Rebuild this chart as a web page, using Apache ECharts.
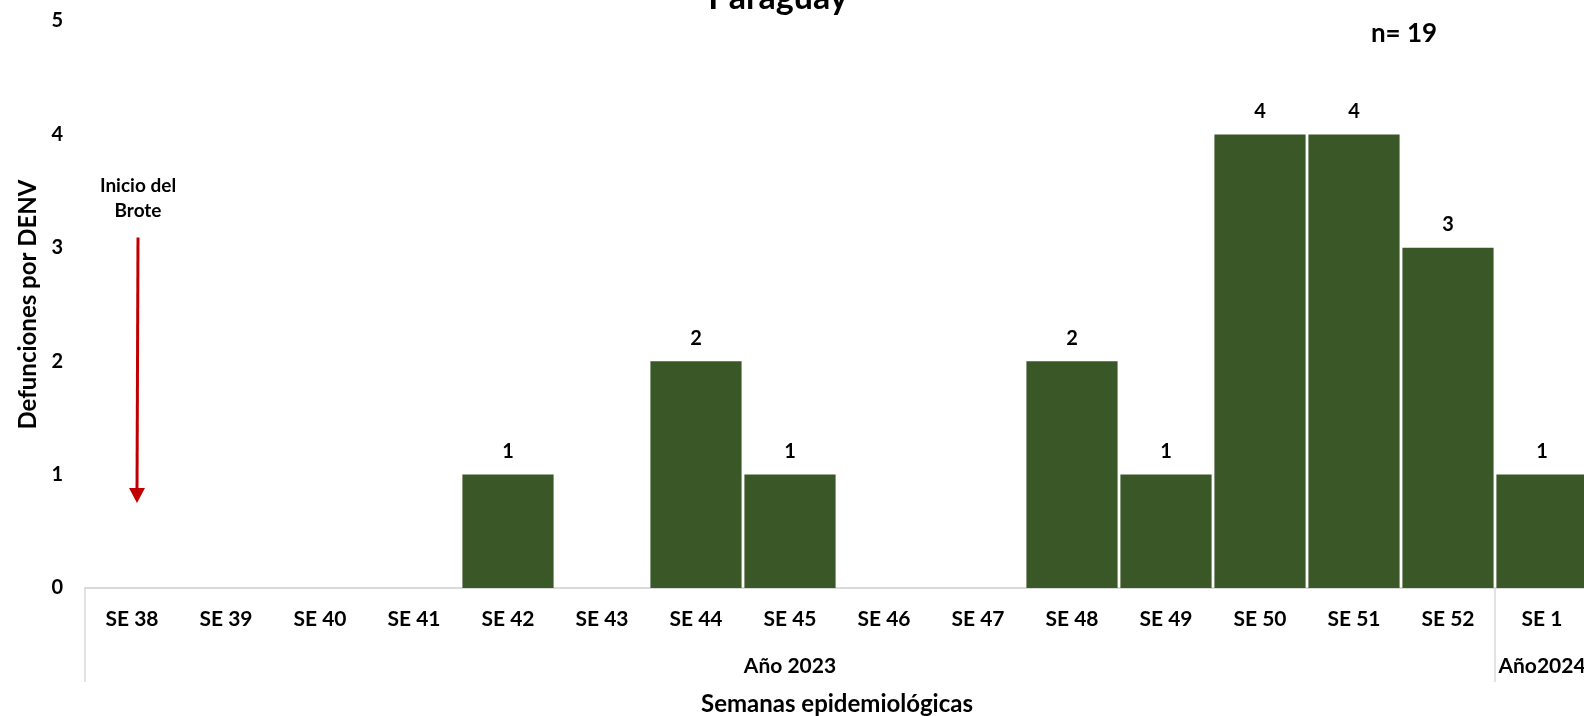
<!DOCTYPE html>
<html>
<head>
<meta charset="utf-8">
<script src="https://cdn.jsdelivr.net/npm/echarts@6/dist/echarts.min.js"></script>
<style>
html,body{margin:0;padding:0;background:#fff;}
#c{width:1584px;height:716px;}
</style>
</head>
<body>
<div id="c"></div>
<script>
const categories = ['SE 38','SE 39','SE 40','SE 41','SE 42','SE 43','SE 44','SE 45','SE 46','SE 47','SE 48','SE 49','SE 50','SE 51','SE 52','SE 1'];
const deaths = [0,0,0,0,1,0,2,1,0,0,2,1,4,4,3,1];
const yearLabels = ['','','','','','','','Año 2023','','','','','','','','Año2024'];
const yearStartIdx = [0,15];
const yTicks = [0,1,2,3,4,5];
const titleText = 'Paraguay';
const nText = 'n= 19';
const noteText = 'Inicio del\nBrote';

const FONT = 'Lato';
const chart = echarts.init(document.getElementById('c'), null, {renderer:'canvas'});

const option = {
  backgroundColor:'#ffffff',
  animation:false,
  title:{
    text:titleText, left:773, top:-24, textAlign:'center',
    textStyle:{fontFamily:FONT, fontWeight:'bold', fontSize:34, color:'#000'}
  },
  grid:{left:85, right:-5, top:21, bottom:128, containLabel:false, outerBoundsMode:'none'},
  xAxis:[{
    type:'category', data:categories, position:'bottom',
    axisLine:{show:true, lineStyle:{color:'#d9d9d9', width:2}},
    axisTick:{show:false},
    axisLabel:{interval:0, margin:21, fontFamily:FONT, fontWeight:'bold', fontSize:21, color:'#000'},
    name:'Semanas epidemiológicas', nameLocation:'middle', nameGap:104,
    nameTextStyle:{fontFamily:FONT, fontWeight:'bold', fontSize:24, color:'#000'}
  },{
    type:'category', data:yearLabels, position:'bottom',
    axisLine:{show:false},
    axisTick:{show:true, length:94, interval:function(i){return yearStartIdx.indexOf(i)>=0;}, lineStyle:{color:'#d9d9d9', width:1.5}},
    axisLabel:{interval:0, margin:68, fontFamily:FONT, fontWeight:'bold', fontSize:21, color:'#000'},
    splitLine:{show:false}
  }],
  yAxis:{
    type:'value', min:0, max:5, interval:1,
    axisLine:{show:false}, axisTick:{show:false}, splitLine:{show:false},
    axisLabel:{margin:22, fontFamily:FONT, fontWeight:'bold', fontSize:20, color:'#000',
      formatter:function(v){return yTicks.indexOf(v)>=0? String(v):'';}},
    name:'Defunciones por DENV', nameLocation:'middle', nameGap:42, nameRotate:90,
    nameTextStyle:{fontFamily:FONT, fontWeight:'bold', fontSize:24, color:'#000'}
  },
  series:[{
    type:'bar', data:deaths, xAxisIndex:0, barCategoryGap:'3%',
    itemStyle:{color:'#3a5727'},
    label:{show:true, position:'top', distance:13, fontFamily:FONT, fontWeight:'bold', fontSize:20, color:'#000',
      formatter:function(p){return p.value>0? String(p.value):'';}}
  }]
};
chart.setOption(option);

function addGraphics(){
  const top = chart.convertToPixel({xAxisIndex:0, yAxisIndex:0}, [categories[0], 3.09]);
  const bot = chart.convertToPixel({xAxisIndex:0, yAxisIndex:0}, [categories[0], 0.75]);
  const ax = top[0] + 6;
  chart.setOption({
    graphic:[
      {type:'text', x:1404, y:34, style:{text:nText, font:'bold 26px '+FONT, fill:'#000', textAlign:'center', textVerticalAlign:'middle'}},
      {type:'text', x:ax, y:top[1]-64, style:{text:noteText, font:'bold 19px '+FONT, fill:'#000', textAlign:'center', lineHeight:25}},
      {type:'line', shape:{x1:ax, y1:top[1], x2:ax-1, y2:bot[1]-12}, style:{stroke:'#c00000', lineWidth:3}},
      {type:'polygon', shape:{points:[[ax-1-8,bot[1]-15],[ax-1+8,bot[1]-15],[ax-1,bot[1]]]}, style:{fill:'#c00000'}}
    ]
  });
}
addGraphics();
</script>
</body>
</html>
